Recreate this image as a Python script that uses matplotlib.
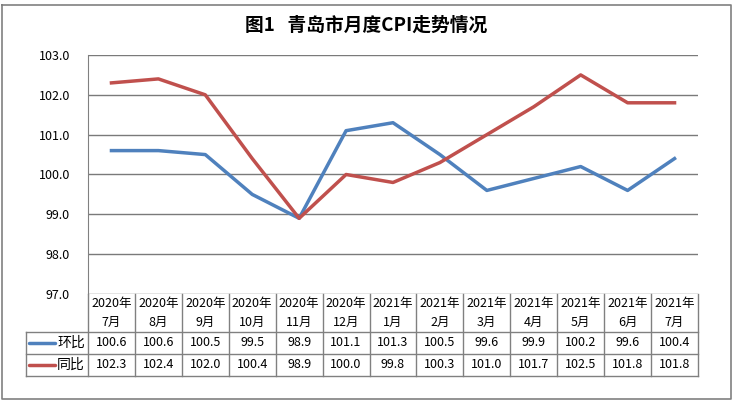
import matplotlib
matplotlib.use('Agg')
import matplotlib.pyplot as plt

plt.rcParams['font.family'] = ['Noto Sans CJK SC', 'DejaVu Sans']

months = ['2020年\n7月', '2020年\n8月', '2020年\n9月', '2020年\n10月', '2020年\n11月',
          '2020年\n12月', '2021年\n1月', '2021年\n2月', '2021年\n3月', '2021年\n4月',
          '2021年\n5月', '2021年\n6月', '2021年\n7月']
huanbi = [100.6, 100.6, 100.5, 99.5, 98.9, 101.1, 101.3, 100.5, 99.6, 99.9, 100.2, 99.6, 100.4]
tongbi = [102.3, 102.4, 102.0, 100.4, 98.9, 100.0, 99.8, 100.3, 101.0, 101.7, 102.5, 101.8, 101.8]
series_names = ['环比', '同比']
colors = ['#4F81BD', '#C0504D']
yticks = [97.0, 98.0, 99.0, 100.0, 101.0, 102.0, 103.0]

W, H = 732, 401
fig = plt.figure(figsize=(W/100, H/100), dpi=100)

# background layer in pixel coords (border + table)
bg = fig.add_axes([0, 0, 1, 1])
bg.set_xlim(0, W)
bg.set_ylim(H, 0)
bg.axis('off')
gray = '#808080'
bg.plot([2, 731, 731, 2, 2], [5, 5, 399, 399, 5], color=gray, lw=1.2)

# plot area
px0, px1, py0, py1 = 88, 698, 55, 294
ax = fig.add_axes([px0/W, 1-py1/H, (px1-px0)/W, (py1-py0)/H])
n = len(months)
x = list(range(n))
ax.plot(x, huanbi, color=colors[0], lw=2.5, solid_joinstyle='round')
ax.plot(x, tongbi, color=colors[1], lw=2.5, solid_joinstyle='round')
ax.set_xlim(-0.5, n-0.5)
ax.set_ylim(97, 103)
ax.set_yticks(yticks)
ax.set_yticklabels(['%.1f' % v for v in yticks], fontsize=9)
ax.tick_params(axis='y', length=0, pad=13)
ax.set_xticks([])
ax.grid(axis='y', color='#7a7a7a', lw=1)
ax.set_axisbelow(True)
for s in ['top', 'right', 'bottom']:
    ax.spines[s].set_visible(False)
ax.spines['left'].set_color(gray)
ax.patch.set_alpha(0)

fig.suptitle('图1   青岛市月度CPI走势情况', x=366/W, y=1-25/H, fontsize=13.5,
             fontweight='bold', va='center')

# data table under the plot
cw = (px1-px0)/n
lx = 26
ht, hb, r1, r2 = 294, 332, 354, 376
tk = dict(color=gray, lw=1)
bg.plot([lx, px1], [hb, hb], **tk)
bg.plot([lx, px1], [r1, r1], **tk)
bg.plot([lx, px1], [r2, r2], **tk)
bg.plot([lx, lx], [hb, r2], **tk)
for i in range(n+1):
    xx = px0 + i*cw
    bg.plot([xx, xx], [ht, r2], **tk)
for i, m in enumerate(months):
    cx = px0 + (i+0.5)*cw
    top, bot = m.split('\n')
    bg.text(cx, 303, top, ha='center', va='center', fontsize=9)
    bg.text(cx, 322, bot, ha='center', va='center', fontsize=9)
    bg.text(cx, (hb+r1)/2, '%.1f' % huanbi[i], ha='center', va='center', fontsize=9)
    bg.text(cx, (r1+r2)/2, '%.1f' % tongbi[i], ha='center', va='center', fontsize=9)
for j, (name, c) in enumerate(zip(series_names, colors)):
    yy = (hb+r1)/2 if j == 0 else (r1+r2)/2
    bg.plot([29, 55], [yy, yy], color=c, lw=2.5, solid_capstyle='round')
    bg.text(57, yy, name, ha='left', va='center', fontsize=10)

fig.savefig('out.png', dpi=100)
